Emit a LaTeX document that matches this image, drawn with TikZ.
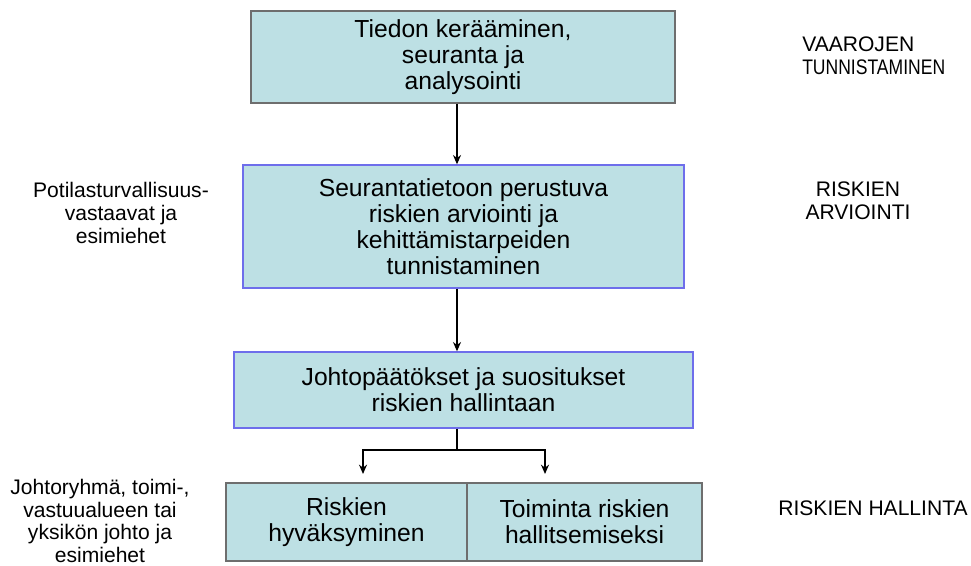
\documentclass[tikz,border=0pt]{standalone}
\usepackage{fontspec}
\setmainfont{Liberation Sans}
\usetikzlibrary{arrows.meta}
\definecolor{boxfill}{RGB}{189,224,228}
\definecolor{blueedge}{RGB}{110,110,235}
\definecolor{grayedge}{RGB}{110,110,110}
\begin{document}
\begin{tikzpicture}[x=0.75pt,y=-0.75pt,
  box/.style={draw=grayedge,line width=1pt,fill=boxfill,align=center,inner sep=0pt,
    font=\fontsize{18.5}{19.6}\selectfont},
  bbox/.style={box,draw=blueedge},
  lbl/.style={align=center,inner sep=0pt,font=\fontsize{15.8}{17.2}\selectfont},
  arr/.style={line width=1.4pt,-{Stealth[length=7pt,width=6pt]}},
  ln/.style={line width=1.4pt}]
\useasboundingbox (0,0) rectangle (971,566);
\node[box,minimum width=424*0.75pt,minimum height=92*0.75pt] (b1) at (463,57)
  {Tiedon kerääminen,\\seuranta ja\\analysointi};
\node[bbox,minimum width=441*0.75pt,minimum height=123*0.75pt] (b2) at (463.5,226.5)
  {Seurantatietoon perustuva\\riskien arviointi ja\\kehittämistarpeiden\\tunnistaminen};
\node[bbox,minimum width=459*0.75pt,minimum height=76*0.75pt] (b3) at (463.5,390)
  {Johtopäätökset ja suositukset\\riskien hallintaan};
\node[box,minimum width=241*0.75pt,minimum height=78*0.75pt] (b4) at (346.5,522)
  {Riskien\\hyväksyminen};
\node[box,minimum width=235*0.75pt,minimum height=78*0.75pt] (b5) at (584.5,522)
  {Toiminta riskien\\hallitsemiseksi};
\coordinate (ax) at (457,0);
\coordinate (split) at (457,450);
\coordinate (tl) at (363,474);
\coordinate (tr) at (545,474);
\draw[arr] (b1.south -| ax) -- (b2.north -| ax);
\draw[arr] (b2.south -| ax) -- (b3.north -| ax);
\draw[ln] (b3.south -| ax) -- (split);
\draw[arr] (split) -| (tl);
\draw[arr] (split) -| (tr);
\node[lbl,align=left,anchor=west] (r1) at (802,56) {VAAROJEN\\\resizebox{107.2pt}{\height}{TUNNISTAMINEN}};
\node[lbl] (r2) at (858,201) {RISKIEN\\ARVIOINTI};
\node[lbl] (r3) at (873,508) {RISKIEN HALLINTA};
\node[lbl] (l1) at (121,213) {Potilasturvallisuus-\\vastaavat ja\\esimiehet};
\node[lbl,font=\fontsize{15.8}{16.8}\selectfont] (l2) at (100,521) {Johtoryhmä, toimi-,\\vastuualueen tai\\yksikön johto ja\\esimiehet};
\end{tikzpicture}
\end{document}
